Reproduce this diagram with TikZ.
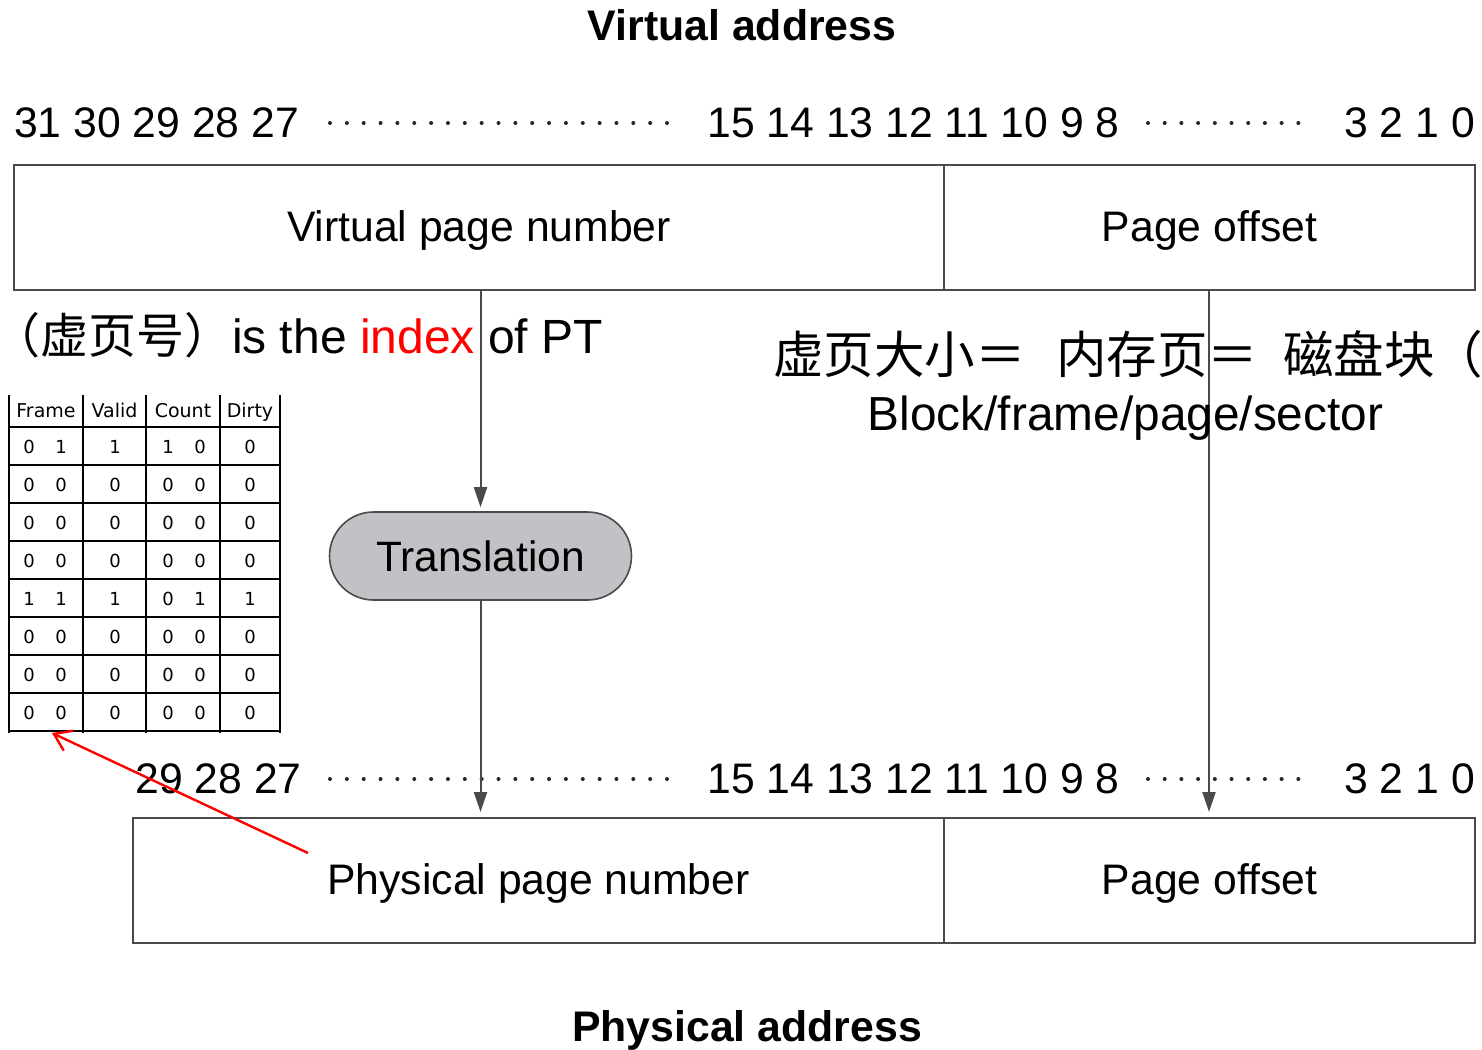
\documentclass[tikz,border=0pt]{standalone}
\usepackage{fontspec}
\setmainfont{Liberation Sans}
\newfontfamily\cjk{Noto Sans CJK SC}
\newfontfamily\tblfont{DejaVu Sans}
\usetikzlibrary{arrows.meta,shapes.misc}
\definecolor{linegray}{HTML}{4A4A4A}
\definecolor{transfill}{HTML}{C2C2C6}
\definecolor{idxred}{HTML}{FF0000}
\begin{document}
\begin{tikzpicture}[x=1pt,y=-1pt,
  box/.style={draw=linegray,line width=2pt,minimum height=125pt,inner sep=0pt},
  boxtxt/.style={inner sep=0pt,font=\fontsize{42.7}{50}\selectfont},
  arr/.style={draw=linegray,line width=2pt,-{Triangle[length=20pt,width=13pt]}},
  bitsw/.style={anchor=base west,inner sep=0pt,font=\fontsize{42.7}{50}\selectfont},
  bitse/.style={anchor=base east,inner sep=0pt,font=\fontsize{42.7}{50}\selectfont},
  titletxt/.style={anchor=base,inner sep=0pt,font=\fontsize{42.8}{50}\selectfont\bfseries},
  celltxt/.style={inner sep=0pt,font=\fontsize{18}{20}\selectfont\tblfont},
  headtxt/.style={anchor=base,inner sep=0pt,font=\fontsize{19}{22}\selectfont\tblfont},
  tline/.style={line width=1.8pt,black},
  dotfill/.style={fill=black!85}]
\useasboundingbox[fill=white] (0,0) rectangle (1482,1049);

% titles
\node[titletxt] (vtitle) at (742,41) {Virtual address};
\node[titletxt] (ptitle) at (747,1041) {Physical address};

% top bit row
\node[bitsw] (tb1) at (14,137) {31 30 29 28 27};
\node[bitse] (tb2) at (1120,137) {15 14 13 12 11 10 9 8};
\node[bitse] (tb3) at (1475,137) {3 2 1 0};
\foreach \i in {0,...,20} \fill[dotfill] (330+\i*16.85,123) circle (2pt);
\foreach \i in {0,...,9} \fill[dotfill] (1148+\i*16.7,123) circle (2pt);

% bottom bit row
\node[bitse] (bb1) at (302,793) {29 28 27};
\node[bitse] (bb2) at (1120,793) {15 14 13 12 11 10 9 8};
\node[bitse] (bb3) at (1475,793) {3 2 1 0};
\foreach \i in {0,...,20} \fill[dotfill] (330+\i*16.85,779) circle (2pt);
\foreach \i in {0,...,9} \fill[dotfill] (1148+\i*16.7,779) circle (2pt);

% boxes
\node[box,minimum width=930pt] (vpn) at (479,227.5) {};
\node[box,minimum width=531pt] (voff) at (1209.5,227.5) {};
\node[box,minimum width=811pt] (ppn) at (538.5,880.5) {};
\node[box,minimum width=531pt] (poff) at (1209.5,880.5) {};
\node[boxtxt] (vpnl) at ([yshift=-3pt]vpn.center) {Virtual page number};
\node[boxtxt] (voffl) at ([yshift=-3pt]voff.center) {Page offset};
\node[boxtxt] (ppnl) at ([yshift=-3pt]ppn.center) {Physical page number};
\node[boxtxt] (poffl) at ([yshift=-3pt]poff.center) {Page offset};

% translation
\node[draw=linegray,line width=1.6pt,fill=transfill,rounded rectangle,
      minimum width=302pt,minimum height=88pt,inner sep=0pt,
      font=\fontsize{42.5}{50}\selectfont] (trans) at (480.5,556) {Translation};

% arrows
\draw[arr,shorten >=4pt] (trans.north |- vpn.south) -- (trans.north);
\draw[arr,shorten >=5pt] (trans.south) -- (trans.south |- ppn.north);
\coordinate (offtop) at (1209,290);
\draw[arr,shorten >=5pt] (offtop) -- (offtop |- poff.north);

% annotation texts
\node[anchor=base west,inner sep=0pt,font=\fontsize{48}{56}\selectfont] (idxtxt) at (0,353)
  {{\cjk\kern-0.17em （虚页号）}is the \textcolor{idxred}{index} of PT};
\node[anchor=base west,inner sep=0pt,font=\fontsize{50.5}{60}\selectfont\cjk] (eqtxt) at (773,373)
  {虚页大小＝\hspace{0.6em}内存页＝\hspace{0.5em}磁盘块\hspace{-0.05em}（};
\node[anchor=base,inner sep=0pt,font=\fontsize{47.8}{56}\selectfont] (blktxt) at (1125.5,430)
  {Block/frame/page/sector};

% page table
\foreach \x in {9,83,146,220,280}
  \draw[tline] (\x,395) -- (\x,733);
\foreach \y in {427,465,503,541,579,617,655,693,731}
  \draw[tline] (8,\y) -- (281,\y);
\node[headtxt] (hframe) at (46,417) {Frame};
\node[headtxt] (hvalid) at (114.5,417) {Valid};
\node[headtxt] (hcount) at (183,417) {Count};
\node[headtxt] (hdirty) at (250,417) {Dirty};
\foreach \a/\b/\c/\d/\e/\f [count=\r] in {0/1/1/1/0/0,0/0/0/0/0/0,0/0/0/0/0/0,0/0/0/0/0/0,1/1/1/0/1/1,0/0/0/0/0/0,0/0/0/0/0/0,0/0/0/0/0/0}{
  \node[celltxt] (c\r a) at (29,{447+(\r-1)*38}) {\a};
  \node[celltxt] (c\r b) at (61,{447+(\r-1)*38}) {\b};
  \node[celltxt] (c\r c) at (115,{447+(\r-1)*38}) {\c};
  \node[celltxt] (c\r d) at (168,{447+(\r-1)*38}) {\d};
  \node[celltxt] (c\r e) at (200,{447+(\r-1)*38}) {\e};
  \node[celltxt] (c\r f) at (250,{447+(\r-1)*38}) {\f};
}

% red pointer
\coordinate (rtail) at (308,853);
\coordinate (rtip) at (52,733);
\draw[idxred,line width=2.4pt,-{Straight Barb[length=16pt,width=22pt]}] (rtail) -- (rtip);
\end{tikzpicture}
\end{document}
